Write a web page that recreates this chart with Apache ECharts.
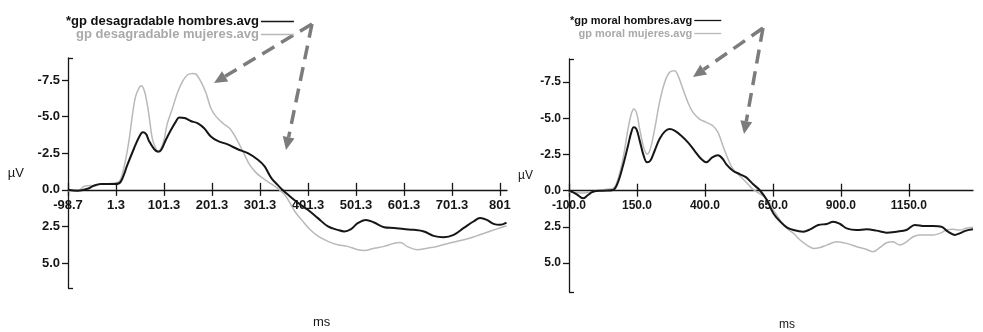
<!DOCTYPE html>
<html>
<head>
<meta charset="utf-8">
<script src="https://cdn.jsdelivr.net/npm/echarts@6/dist/echarts.min.js"></script>
<style>
  html, body { margin: 0; padding: 0; background: #fff; }
  #chart { width: 983px; height: 332px; }
</style>
</head>
<body>
<div id="chart"></div>
<script>
// ERP grand averages (µV, negative plotted upwards), time in ms

// Left panel: "desagradable" condition
const leftHombresMs = [-98.7,-79,-58,-44,-30,-3,8,15,25,39,50,57,64,70,81,89,95,105,116,126,133,144,157,171,185,199,213,234,255,276,297,311,325,338,348,360,381,401,422,443,463,477,491,505,522,539,560,581,601,622,643,663,684,705,726,746,760,774,788,801,815];
const leftHombresUv = [0.0,0.07,-0.07,-0.3,-0.4,-0.4,-0.45,-0.8,-1.7,-2.84,-3.64,-3.93,-3.8,-3.34,-2.77,-2.6,-2.7,-3.4,-4.1,-4.66,-4.93,-4.9,-4.7,-4.55,-4.2,-3.64,-3.34,-3.1,-2.77,-2.5,-2.05,-1.6,-0.8,-0.34,0.0,0.34,0.9,1.36,1.93,2.5,2.73,2.84,2.68,2.27,2.05,2.23,2.55,2.6,2.68,2.73,2.84,3.14,3.23,3.07,2.6,2.16,1.93,2.05,2.32,2.39,2.23];

const leftMujeresMs = [-98.7,-79,-65,-51,-44,-30,-3,8,15,22,29,35.5,42,50,54,60,65,70,77,84,89,95,102,108,119,129,140,150,161,168,178,189,199,210,224,238,252,266,280,294,307,325,340,352,364,374,388,406,423,443,463,484,505,519,539,560,581,594,608,629,650,670,691,711,732,753,773,794,815];
const leftMujeresUv = [0.07,0.1,-0.25,-0.3,-0.27,-0.4,-0.45,-0.57,-1.14,-2.16,-3.5,-5.1,-6.36,-7.0,-7.1,-6.8,-6.1,-5.1,-3.5,-2.84,-2.66,-2.84,-3.5,-4.5,-5.57,-6.6,-7.4,-7.84,-7.95,-7.9,-7.4,-6.6,-5.57,-5.0,-4.55,-4.2,-3.5,-2.6,-1.7,-1.14,-0.8,-0.4,-0.05,0.3,0.9,1.48,2.05,2.73,3.18,3.52,3.75,3.86,4.09,4.14,3.98,3.86,3.64,3.59,3.86,4.09,3.98,3.86,3.68,3.52,3.36,3.14,2.91,2.68,2.45];

// Right panel: "moral" condition
const rightHombresMs = [-100,-73,-48.5,-30,-12,25,62,80,98.5,117,129,138,148,160,174.5,187,199,215,233,252,270,288.5,313,337.5,362,386.5,405,427,448,466,478,503,527.5,552,576.5,601,628,652,677,701,726,762,787,817,848,872,897,921,958,995,1031,1068,1105,1141,1172,1209,1239,1270,1294,1319,1337,1361,1386];
const rightHombresUv = [0,0.23,0.53,0.3,0.07,0,-0.05,-0.58,-1.73,-3.11,-4.03,-4.38,-4.26,-3.46,-2.42,-1.96,-2.07,-2.76,-3.57,-4.08,-4.26,-4.15,-3.8,-3.34,-2.76,-2.19,-1.96,-2.3,-2.45,-2.19,-1.84,-1.38,-1.15,-0.92,-0.46,-0.05,0.65,1.57,2.14,2.53,2.72,2.83,2.67,2.37,2.3,2.14,2.3,2.6,2.72,2.67,2.76,2.9,2.83,2.72,2.37,2.44,2.44,2.49,2.83,3.06,2.95,2.76,2.67];

const rightMujeresMs = [-100,-73,-48.5,-12,25,62,80,98.5,117,129,138,148,160,174.5,187,199,215,233,252,270,288.5,301,319,337.5,356,380,405,429,448,466,485,503,527.5,552,576.5,601,628,652,677,701,726,750,775,799,824,848,885,921,958,995,1019,1044,1068,1092,1117,1141,1166,1190,1215,1239,1264,1288,1313,1337,1361,1386];
const rightMujeresUv = [0.07,0.12,0.16,0.07,-0.07,-0.16,-0.8,-2.19,-4.26,-5.3,-5.65,-5.41,-4.26,-3.0,-2.53,-2.88,-4.26,-6.1,-7.49,-8.18,-8.29,-7.95,-7.03,-6.1,-5.41,-4.95,-4.72,-4.49,-4.03,-3.11,-2.19,-1.5,-1.04,-0.58,-0.1,0.2,0.6,1.34,2.03,2.6,2.95,3.41,3.76,3.99,3.92,3.76,3.53,3.64,3.87,4.06,4.22,3.92,3.6,3.53,3.76,3.53,3.18,3.06,3.06,3.06,2.95,2.72,2.67,2.72,2.6,2.53];

// Axis ticks and labels
const leftXTicks = [-98.7, 1.3, 101.3, 201.3, 301.3, 401.3, 501.3, 601.3, 701.3, 801.3];
const leftXTickLabels = ['-98.7', '1.3', '101.3', '201.3', '301.3', '401.3', '501.3', '601.3', '701.3', '801'];
const rightXTicks = [-100, 150, 400, 650, 900, 1150];
const rightXTickLabels = ['-100.0', '150.0', '400.0', '650.0', '900.0', '1150.0'];
const yTicks = [-7.5, -5, -2.5, 0, 2.5, 5];
const yTickLabels = ['-7.5', '-5.0', '-2.5', '0.0', '2.5', '5.0'];

const legendNames = {
  leftH: '*gp desagradable hombres.avg',
  leftM: 'gp desagradable mujeres.avg',
  rightH: '*gp moral hombres.avg',
  rightM: 'gp moral mujeres.avg'
};

const FONT = '"Liberation Sans", Arial, sans-serif';
const INK = '#161616';
const GREY_LINE = '#b9b9b9';
const ARROW = '#7c7c7c';

function zip(xs, ys) { return xs.map((x, i) => [x, ys[i]]); }

function labelFor(ticks, labels) {
  return function (v) {
    let best = 0;
    for (let i = 1; i < ticks.length; i++) {
      if (Math.abs(ticks[i] - v) < Math.abs(ticks[best] - v)) best = i;
    }
    return labels[best];
  };
}

// Panel geometry
const panels = [
  { left: 68, top: 58, width: 439, height: 230, xMin: -98.7, xMax: 816, yMin: -9.0, yMax: 6.7,
    xTicks: leftXTicks, xLabels: leftXTickLabels, fontSize: 13, nameGap: 44 },
  { left: 569, top: 59, width: 404, height: 233, xMin: -100, xMax: 1386, yMin: -9.1, yMax: 7.0,
    xTicks: rightXTicks, xLabels: rightXTickLabels, fontSize: 12, nameGap: 36 }
];

const grid = [];
const xAxis = [];
const yAxis = [];
panels.forEach((p, i) => {
  grid.push({ left: p.left, top: p.top, width: p.width, height: p.height, containLabel: false });
  // main time axis: line, downward ticks, labels (shifted up to the zero level below)
  xAxis.push({
    type: 'value', gridIndex: i, min: p.xMin, max: p.xMax, position: 'bottom', offset: 0,
    axisLine: { show: true, onZero: false, lineStyle: { color: INK, width: 1.3 } },
    axisTick: { show: true, inside: false, length: 6, customValues: p.xTicks, lineStyle: { color: INK, width: 1.3 } },
    axisLabel: { show: true, customValues: p.xTicks, formatter: labelFor(p.xTicks, p.xLabels),
      color: INK, fontFamily: FONT, fontSize: p.fontSize, fontWeight: 'bold', margin: 9 },
    splitLine: { show: false }
  });
  // companion time axis: upward half of each tick mark
  xAxis.push({
    type: 'value', gridIndex: i, min: p.xMin, max: p.xMax, position: 'bottom', offset: 0,
    axisLine: { show: false, onZero: false },
    axisTick: { show: true, inside: true, length: 7, customValues: p.xTicks, lineStyle: { color: INK, width: 1.3 } },
    axisLabel: { show: false },
    splitLine: { show: false }
  });
  // main amplitude axis (negative up)
  yAxis.push({
    type: 'value', gridIndex: i, min: p.yMin, max: p.yMax, inverse: true, position: 'left',
    name: 'µV', nameLocation: 'middle', nameRotate: 0, nameGap: p.nameGap,
    nameTextStyle: { color: INK, fontFamily: FONT, fontSize: p.fontSize },
    axisLine: { show: true, onZero: false, lineStyle: { color: INK, width: 1.3 } },
    axisTick: { show: true, inside: false, length: 6, customValues: yTicks, lineStyle: { color: INK, width: 1.3 } },
    axisLabel: { show: true, customValues: yTicks, formatter: labelFor(yTicks, yTickLabels),
      color: INK, fontFamily: FONT, fontSize: p.fontSize, fontWeight: 'bold', margin: 8 },
    splitLine: { show: false }
  });
  // companion amplitude axis: short caps at both ends of the axis line
  yAxis.push({
    type: 'value', gridIndex: i, min: p.yMin, max: p.yMax, inverse: true, position: 'left',
    axisLine: { show: false, onZero: false },
    axisTick: { show: true, inside: true, length: 5, customValues: [p.yMin, p.yMax], lineStyle: { color: INK, width: 1.3 } },
    axisLabel: { show: false },
    splitLine: { show: false }
  });
});

function lineSeries(name, data, gridIdx, color, width) {
  return {
    name: name, type: 'line', xAxisIndex: 2 * gridIdx, yAxisIndex: 2 * gridIdx,
    data: data, showSymbol: false, symbol: 'none', smooth: 0.35,
    lineStyle: { color: color, width: width }, itemStyle: { color: color },
    z: color === INK ? 3 : 2, silent: true
  };
}

const series = [
  lineSeries(legendNames.leftM, zip(leftMujeresMs, leftMujeresUv), 0, GREY_LINE, 1.5),
  lineSeries(legendNames.leftH, zip(leftHombresMs, leftHombresUv), 0, INK, 2),
  lineSeries(legendNames.rightM, zip(rightMujeresMs, rightMujeresUv), 1, GREY_LINE, 1.5),
  lineSeries(legendNames.rightH, zip(rightHombresMs, rightHombresUv), 1, INK, 2)
];

function legendBlock(left, names, fontSize, iconW, gap) {
  return {
    orient: 'vertical', left: left, top: 15, align: 'right', selectedMode: false,
    icon: 'rect', itemWidth: iconW, itemHeight: 1.3, itemGap: gap, padding: 0,
    textStyle: { fontFamily: FONT, fontSize: fontSize, fontWeight: 'bold', padding: [0, -3, 0, 0] },
    data: [
      { name: names[0], textStyle: { color: '#111' } },
      { name: names[1], textStyle: { color: '#a9a9a9' } }
    ]
  };
}

// dashed annotation arrows
function arrow(x0, y0, x1, y1) {
  const dx = x1 - x0, dy = y1 - y0;
  const len = Math.sqrt(dx * dx + dy * dy);
  const ux = dx / len, uy = dy / len;
  const head = 13, half = 6;
  const bx = x1 - ux * head, by = y1 - uy * head;
  return [
    { type: 'line', silent: true,
      shape: { x1: x0, y1: y0, x2: bx, y2: by },
      style: { stroke: ARROW, lineWidth: 3.5, lineDash: [14, 8] } },
    { type: 'polygon', silent: true,
      shape: { points: [[x1, y1], [bx - uy * half, by + ux * half], [bx + uy * half, by - ux * half]] },
      style: { fill: ARROW } }
  ];
}

const graphic = [].concat(
  arrow(312, 24, 214, 83),
  arrow(312, 24, 286, 150),
  arrow(763, 28, 693, 77),
  arrow(763, 28, 744, 134),
  [
    { type: 'text', left: 313, top: 316, silent: true,
      style: { text: 'ms', font: '13px ' + FONT, fill: INK } },
    { type: 'text', left: 779, top: 319, silent: true,
      style: { text: 'ms', font: '12px ' + FONT, fill: INK } }
  ]
);

const chart = echarts.init(document.getElementById('chart'), null, { renderer: 'canvas' });
chart.setOption({
  animation: false,
  backgroundColor: '#fff',
  grid: grid,
  xAxis: xAxis,
  yAxis: yAxis,
  legend: [
    legendBlock(66, [legendNames.leftH, legendNames.leftM], 13, 33, 0),
    legendBlock(570, [legendNames.rightH, legendNames.rightM], 11, 27, 2)
  ],
  series: series,
  graphic: graphic
});

// Lift each time axis from the grid bottom to the 0 µV level of its amplitude scale.
const axisShift = panels.map((p, i) => {
  const zeroY = chart.convertToPixel({ yAxisIndex: 2 * i }, 0);
  const bottomY = chart.convertToPixel({ yAxisIndex: 2 * i }, p.yMax);
  return zeroY - bottomY;
});
chart.setOption({
  xAxis: xAxis.map((a, k) => ({ offset: axisShift[Math.floor(k / 2)] }))
});
</script>
</body>
</html>
